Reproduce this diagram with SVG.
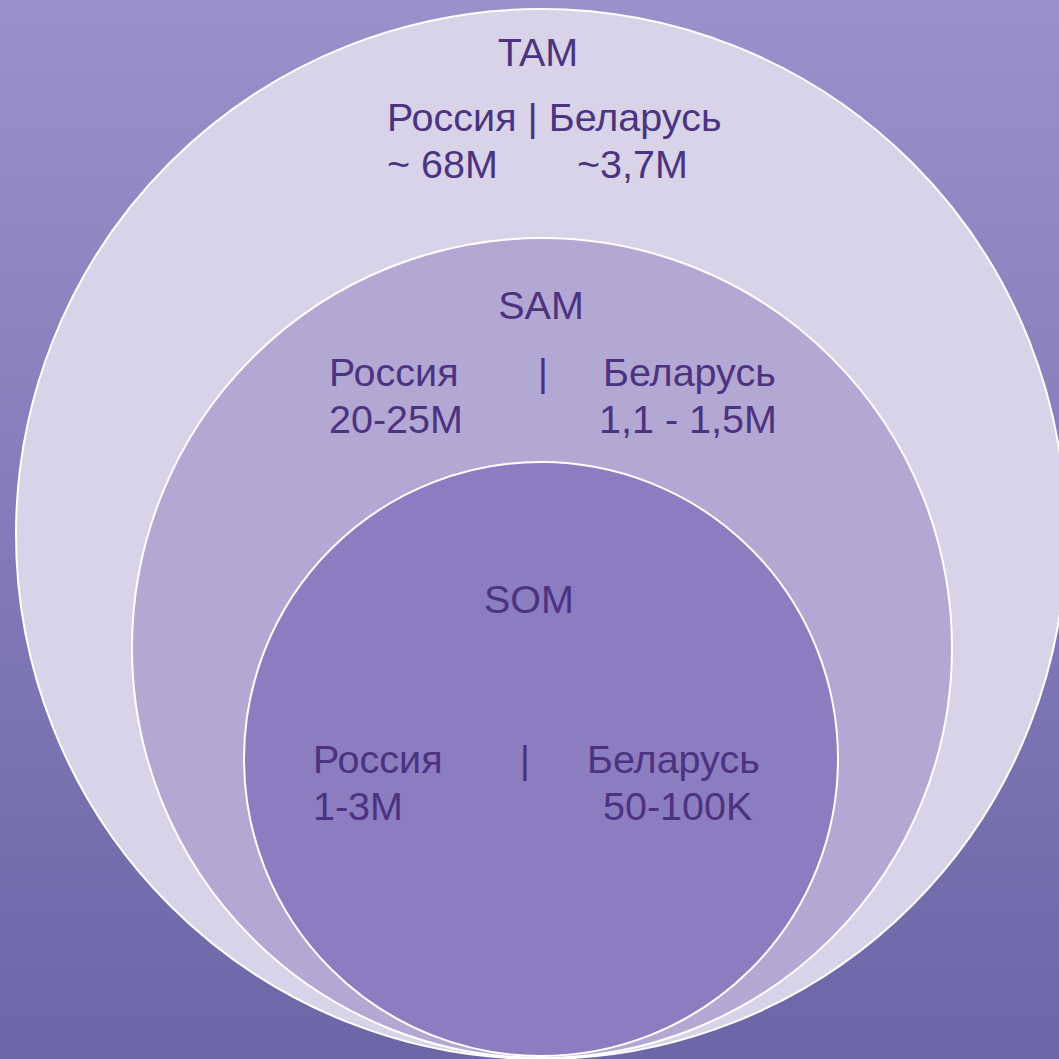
<svg xmlns="http://www.w3.org/2000/svg" width="1059" height="1059" viewBox="0 0 1059 1059">
<defs>
<linearGradient id="bg" x1="0" y1="0" x2="0" y2="1">
<stop offset="0" stop-color="#9b90ca"/>
<stop offset="1" stop-color="#6c66a7"/>
</linearGradient>
<style>
.ring{stroke:#ffffff;stroke-width:2}
.t{font-family:"Liberation Sans",Arial,sans-serif;font-size:39.5px;fill:#4b3380}
.c{text-anchor:middle}
</style>
</defs>
<rect x="0" y="0" width="1059" height="1059" fill="url(#bg)"/>
<g id="tam">
<circle class="ring" cx="541" cy="534" r="525" fill="#d9d3e9"/>
<text class="t c" x="538" y="66">TAM</text>
<text class="t" x="387" y="131">Россия | Беларусь</text>
<text class="t" x="387" y="178">~ 68M</text>
<text class="t" x="577" y="178">~3,7M</text>
</g>
<g id="sam">
<circle class="ring" cx="542" cy="648" r="410" fill="#b3a7d4"/>
<text class="t c" x="541" y="319">SAM</text>
<text class="t" x="329" y="386">Россия</text>
<text class="t c" x="543" y="386">|</text>
<text class="t" x="603" y="386">Беларусь</text>
<text class="t" x="599" y="433">1,1 - 1,5M</text>
<text class="t" x="329" y="433">20-25M</text>
</g>
<g id="som">
<circle class="ring" cx="541" cy="759" r="297" fill="#8c7cc0"/>
<text class="t c" x="529" y="613">SOM</text>
<text class="t" x="313" y="773">Россия</text>
<text class="t c" x="525" y="773">|</text>
<text class="t" x="587" y="773">Беларусь</text>
<text class="t" x="313" y="820">1-3M</text>
<text class="t" x="603" y="820">50-100K</text>
</g>
<g id="connectors"/>
</svg>
